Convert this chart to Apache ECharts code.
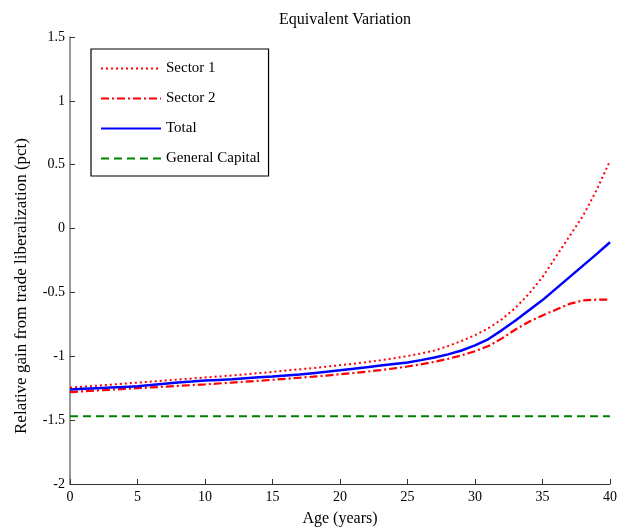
<!DOCTYPE html>
<html>
<head>
<meta charset="utf-8">
<script src="https://cdn.jsdelivr.net/npm/echarts@6/dist/echarts.min.js"></script>
<style>html,body{margin:0;padding:0;background:#fff}#c{width:626px;height:528px}</style>
</head>
<body>
<div id="c"></div>
<script>
const ages = [0,1,2,3,4,5,6,7,8,9,10,11,12,13,14,15,16,17,18,19,20,21,22,23,24,25,26,27,28,29,30,31,32,33,34,35,36,37,38,39,40];
const sector1 = [-1.245,-1.238,-1.23,-1.222,-1.214,-1.206,-1.198,-1.19,-1.182,-1.174,-1.166,-1.158,-1.15,-1.141,-1.132,-1.122,-1.112,-1.102,-1.092,-1.081,-1.07,-1.058,-1.045,-1.031,-1.016,-0.998,-0.978,-0.955,-0.92,-0.88,-0.835,-0.78,-0.71,-0.62,-0.51,-0.38,-0.22,-0.06,0.1,0.3,0.53];
const sector2 = [-1.28,-1.274,-1.268,-1.262,-1.256,-1.25,-1.244,-1.238,-1.232,-1.226,-1.22,-1.213,-1.206,-1.199,-1.192,-1.184,-1.176,-1.168,-1.16,-1.151,-1.141,-1.131,-1.12,-1.108,-1.095,-1.08,-1.063,-1.043,-1.02,-0.993,-0.96,-0.92,-0.86,-0.79,-0.73,-0.68,-0.635,-0.59,-0.562,-0.557,-0.557];
const total = [-1.26,-1.255,-1.25,-1.245,-1.24,-1.235,-1.225,-1.215,-1.205,-1.198,-1.19,-1.185,-1.18,-1.172,-1.165,-1.158,-1.15,-1.142,-1.132,-1.122,-1.11,-1.098,-1.085,-1.072,-1.06,-1.048,-1.03,-1.01,-0.985,-0.955,-0.915,-0.865,-0.795,-0.72,-0.64,-0.56,-0.47,-0.38,-0.29,-0.2,-0.107];
const generalCapital = [-1.47,-1.47,-1.47,-1.47,-1.47,-1.47,-1.47,-1.47,-1.47,-1.47,-1.47,-1.47,-1.47,-1.47,-1.47,-1.47,-1.47,-1.47,-1.47,-1.47,-1.47,-1.47,-1.47,-1.47,-1.47,-1.47,-1.47,-1.47,-1.47,-1.47,-1.47,-1.47,-1.47,-1.47,-1.47,-1.47,-1.47,-1.47,-1.47,-1.47,-1.47];
const seriesNames = ['Sector 1','Sector 2','Total','General Capital'];
const yAxisTitle = 'Relative gain from trade liberalization (pct)';

const pairs = arr => ages.map((a,i)=>[a,arr[i]]);
const font = 'Liberation Serif';
const chart = echarts.init(document.getElementById('c'), null, {renderer:'canvas'});
chart.setOption({
  animation:false,
  backgroundColor:'#fff',
  textStyle:{fontFamily:font},
  title:{text:'Equivalent Variation',left:340,top:7,textAlign:'center',
    textStyle:{fontFamily:font,fontSize:16,fontWeight:'normal',color:'#000'}},
  grid:{left:70,right:16,top:37,bottom:44,containLabel:false,outerBoundsMode:'none'},
  graphic:[{type:'text',x:22,y:286,rotation:Math.PI/2,
    style:{text:yAxisTitle,fontFamily:font,fontSize:17,fill:'#000',align:'center',verticalAlign:'middle'}}],
  legend:{
    orient:'vertical',left:91,top:49,
    padding:[12,8,10,9],itemGap:15,itemWidth:60,itemHeight:14,
    borderColor:'#000',borderWidth:1.2,backgroundColor:'#fff',
    itemStyle:{opacity:0,borderWidth:0},
    textStyle:{fontFamily:font,fontSize:15,color:'#000'},
    data:seriesNames
  },
  xAxis:{type:'value',min:0,max:40,interval:5,
    name:'Age (years)',nameLocation:'middle',nameGap:27,
    nameTextStyle:{fontFamily:font,fontSize:16,color:'#000'},
    axisLine:{onZero:false,lineStyle:{color:'#333',width:1}},
    axisTick:{inside:true,length:5,lineStyle:{color:'#333'}},
    axisLabel:{fontFamily:font,fontSize:14,color:'#000',margin:6},
    splitLine:{show:false}},
  yAxis:{type:'value',min:-2,max:1.5,interval:0.5,
    axisLine:{show:true,lineStyle:{color:'#777',width:1.5}},
    axisTick:{show:true,inside:true,length:5,lineStyle:{color:'#333'}},
    axisLabel:{fontFamily:font,fontSize:14,color:'#000',margin:5},
    splitLine:{show:false}},
  series:[
    {name:'Sector 1',type:'line',data:pairs(sector1),showSymbol:false,symbol:'none',
      lineStyle:{color:'#ff0000',width:2,type:[2,3]},itemStyle:{color:'#ff0000'}},
    {name:'Sector 2',type:'line',data:pairs(sector2),showSymbol:false,symbol:'none',
      lineStyle:{color:'#ff0000',width:2.2,type:[8,3,2,3]},itemStyle:{color:'#ff0000'}},
    {name:'Total',type:'line',data:pairs(total),showSymbol:false,symbol:'none',
      lineStyle:{color:'#0000ff',width:2.5},itemStyle:{color:'#0000ff'}},
    {name:'General Capital',type:'line',data:pairs(generalCapital),showSymbol:false,symbol:'none',
      lineStyle:{color:'#008000',width:2,type:[8,5]},itemStyle:{color:'#008000'}}
  ]
});
</script>
</body>
</html>
